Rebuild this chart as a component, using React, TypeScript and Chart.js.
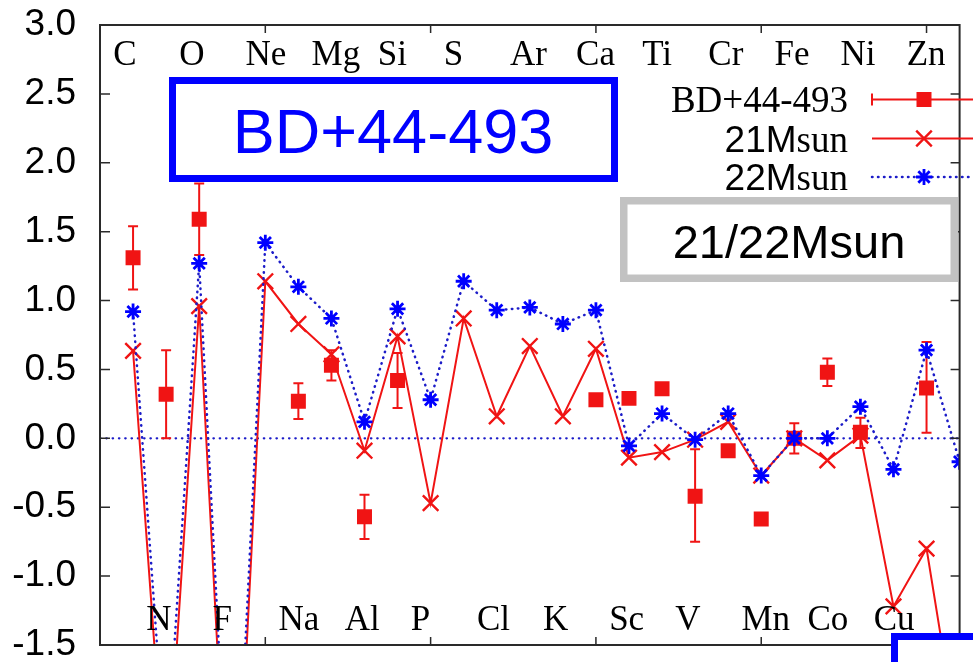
import React, { useEffect, useRef } from 'react';
import { Chart, registerables } from 'chart.js';

Chart.register(...registerables);

// ---------- data ----------
const atomicNumbers = [6, 7, 8, 9, 10, 11, 12, 13, 14, 15, 16, 17, 18, 19, 20, 21, 22, 23, 24, 25, 26, 27, 28, 29, 30, 31];
const elementSymbols = ['C', 'N', 'O', 'F', 'Ne', 'Na', 'Mg', 'Al', 'Si', 'P', 'S', 'Cl', 'Ar', 'K', 'Ca', 'Sc', 'Ti', 'V', 'Cr', 'Mn', 'Fe', 'Co', 'Ni', 'Cu', 'Zn', 'Ga'];
const labelledSymbols = ['C', 'N', 'O', 'F', 'Ne', 'Na', 'Mg', 'Al', 'Si', 'P', 'S', 'Cl', 'Ar', 'K', 'Ca', 'Sc', 'Ti', 'V', 'Cr', 'Mn', 'Fe', 'Co', 'Ni', 'Cu', 'Zn'];

// BD+44-493 observed [X/Fe] with error bar bounds
const obsValues = [1.31, 0.32, 1.59, null, null, 0.27, 0.53, -0.57, 0.42, null, null, null, null, null, 0.28, 0.29, 0.36, -0.42, -0.09, -0.585, 0.0, 0.48, 0.045, null, 0.365, null];
const obsErrLow = [1.08, 0.0, 1.33, null, null, 0.14, 0.42, -0.73, 0.22, null, null, null, null, null, 0.25, null, null, -0.75, null, null, -0.11, 0.38, -0.07, null, 0.04, null];
const obsErrHigh = [1.54, 0.64, 1.85, null, null, 0.4, 0.64, -0.41, 0.62, null, null, null, null, null, 0.31, null, null, -0.08, null, null, 0.11, 0.58, 0.15, null, 0.7, null];

// model yields
const model21Msun = [0.635, -2.68, 0.96, -3.55, 1.14, 0.83, 0.61, -0.09, 0.74, -0.47, 0.87, 0.16, 0.67, 0.16, 0.65, -0.14, -0.1, -0.01, 0.12, -0.27, 0.0, -0.16, 0.02, -1.22, -0.8, -2.28];
const model22Msun = [0.92, -2.42, 1.27, -3.4, 1.42, 1.1, 0.87, 0.12, 0.94, 0.28, 1.14, 0.93, 0.95, 0.83, 0.93, -0.055, 0.18, -0.01, 0.18, -0.27, 0.0, 0.0, 0.23, -0.225, 0.64, -0.17];

const xMin = 5;
const xMax = 31;
const xMajorTicks = [10, 15, 20, 25, 30];
const yMin = -1.5;
const yMax = 3.0;
const yStep = 0.5;

const legendLabels = ['BD+44-493', '21Msun', '22Msun'];
const titleText = 'BD+44-493';
const modelText = '21/22Msun';

// ---------- styles ----------
const RED = '#f01414';
const BLUE = '#0000ff';
const BLUE_LINE = '#1c1cc8';
const FRAME = '#2a2a2a';
const SERIF = '"Liberation Serif", "Times New Roman", serif';
const SANS = '"Liberation Sans", Arial, sans-serif';
const CROSS_R = 11;
const STAR_R = 8;

const obsPoints = atomicNumbers
  .map((z, i) => ({ x: z, y: obsValues[i] }))
  .filter((p) => p.y !== null);
const pts21 = atomicNumbers.map((z, i) => ({ x: z, y: model21Msun[i] }));
const pts22 = atomicNumbers.map((z, i) => ({ x: z, y: model22Msun[i] }));

function drawRectMarker(ctx: CanvasRenderingContext2D, x: number, y: number, s: number) {
  ctx.fillStyle = RED;
  ctx.fillRect(x - s / 2, y - s / 2, s, s);
}
function drawCrossRot(ctx: CanvasRenderingContext2D, x: number, y: number, r: number) {
  const d = r * Math.SQRT1_2;
  ctx.beginPath();
  ctx.moveTo(x - d, y - d);
  ctx.lineTo(x + d, y + d);
  ctx.moveTo(x - d, y + d);
  ctx.lineTo(x + d, y - d);
  ctx.stroke();
}
function drawStar(ctx: CanvasRenderingContext2D, x: number, y: number, r: number) {
  ctx.beginPath();
  for (let k = 0; k < 4; k++) {
    const a = (k * Math.PI) / 4;
    ctx.moveTo(x - Math.cos(a) * r, y - Math.sin(a) * r);
    ctx.lineTo(x + Math.cos(a) * r, y + Math.sin(a) * r);
  }
  ctx.stroke();
}

const decorPlugin = {
  id: 'decor',
  beforeDatasetsDraw(chart: any) {
    const { ctx, chartArea: a, scales } = chart;
    const xs = scales.x;
    const ys = scales.y;
    ctx.save();
    // zero line
    const y0 = ys.getPixelForValue(0);
    ctx.strokeStyle = BLUE_LINE;
    ctx.lineWidth = 2.2;
    ctx.lineCap = 'round';
    ctx.setLineDash([0.5, 5.8]);
    ctx.beginPath();
    ctx.moveTo(a.left, y0);
    ctx.lineTo(a.right, y0);
    ctx.stroke();
    ctx.setLineDash([]);
    ctx.lineCap = 'butt';
    // error bars
    ctx.strokeStyle = RED;
    ctx.lineWidth = 2;
    atomicNumbers.forEach((z, i) => {
      const lo = obsErrLow[i];
      const hi = obsErrHigh[i];
      if (lo === null || hi === null) return;
      const px = xs.getPixelForValue(z);
      const pl = ys.getPixelForValue(lo);
      const ph = ys.getPixelForValue(hi);
      ctx.beginPath();
      ctx.moveTo(px, pl);
      ctx.lineTo(px, ph);
      ctx.moveTo(px - 5, pl);
      ctx.lineTo(px + 5, pl);
      ctx.moveTo(px - 5, ph);
      ctx.lineTo(px + 5, ph);
      ctx.stroke();
    });
    ctx.restore();
  },
  afterDatasetsDraw(chart: any) {
    const { ctx, chartArea: a, scales } = chart;
    const xs = scales.x;
    const ys = scales.y;
    ctx.save();
    // frame
    ctx.strokeStyle = FRAME;
    ctx.lineWidth = 2;
    ctx.strokeRect(a.left, a.top, a.right - a.left, a.bottom - a.top);
    // y ticks (inward, both sides)
    ctx.lineWidth = 1.5;
    ys.ticks.forEach((t: any) => {
      if (t.value <= yMin || t.value >= yMax) return;
      const py = ys.getPixelForValue(t.value);
      ctx.beginPath();
      ctx.moveTo(a.left, py);
      ctx.lineTo(a.left + 10, py);
      ctx.moveTo(a.right, py);
      ctx.lineTo(a.right - 9, py);
      ctx.stroke();
    });
    // x ticks
    xMajorTicks.forEach((v) => {
      const px = xs.getPixelForValue(v);
      ctx.beginPath();
      ctx.moveTo(px, a.top);
      ctx.lineTo(px, a.top + 8);
      ctx.moveTo(px, a.bottom);
      ctx.lineTo(px, a.bottom - 8);
      ctx.stroke();
    });
    // element labels
    ctx.fillStyle = '#000';
    ctx.font = `35px ${SERIF}`;
    ctx.textAlign = 'left';
    ctx.textBaseline = 'alphabetic';
    labelledSymbols.forEach((sym) => {
      const z = atomicNumbers[elementSymbols.indexOf(sym)];
      const px = xs.getPixelForValue(z - 0.6);
      const py = z % 2 === 0 ? a.top + 40 : a.bottom - 15;
      ctx.fillText(sym, px, py);
    });

    // blue title box
    ctx.fillStyle = '#fff';
    ctx.fillRect(172.5, 80.5, 442, 98);
    ctx.strokeStyle = BLUE;
    ctx.lineWidth = 7;
    ctx.strokeRect(172.5, 80.5, 442, 98);
    ctx.fillStyle = BLUE;
    ctx.font = `63px ${SANS}`;
    ctx.textAlign = 'center';
    ctx.fillText(titleText, 393, 153);

    // grey model box
    ctx.fillStyle = '#fff';
    ctx.fillRect(623.75, 200.75, 330.5, 77.5);
    ctx.strokeStyle = '#c2c2c2';
    ctx.lineWidth = 7.5;
    ctx.strokeRect(623.75, 200.75, 330.5, 77.5);
    ctx.fillStyle = '#000';
    ctx.font = `47px ${SANS}`;
    ctx.fillText(modelText, 789, 258);

    // partial blue box bottom right
    ctx.fillStyle = '#fff';
    ctx.fillRect(894.5, 636.5, 200, 100);
    ctx.strokeStyle = BLUE;
    ctx.lineWidth = 7;
    ctx.strokeRect(894.5, 636.5, 200, 100);

    // legend
    const textRight = 848;
    const baselines = [112, 151.5, 190];
    const sampleY = [99.5, 138.5, 177];
    const sx0 = 872;
    const sx1 = chart.width;
    const mx = 924;
    ctx.textAlign = 'left';
    ctx.fillStyle = '#000';
    ctx.font = `37px ${SERIF}`;
    const w = ctx.measureText(legendLabels[0]).width;
    ctx.fillText(legendLabels[0], textRight - w, baselines[0]);
    [1, 2].forEach((k) => {
      const lab = legendLabels[k];
      const head = lab.slice(0, 3);
      const tail = lab.slice(3);
      ctx.font = `37px ${SERIF}`;
      const wt = ctx.measureText(tail).width;
      ctx.font = `37px ${SANS}`;
      const wh = ctx.measureText(head).width;
      ctx.fillText(head, textRight - wt - wh, baselines[k]);
      ctx.font = `37px ${SERIF}`;
      ctx.fillText(tail, textRight - wt, baselines[k]);
    });
    ctx.strokeStyle = RED;
    ctx.lineWidth = 2;
    ctx.beginPath();
    ctx.moveTo(sx0, sampleY[0]);
    ctx.lineTo(sx1, sampleY[0]);
    ctx.moveTo(sx0, sampleY[0] - 6);
    ctx.lineTo(sx0, sampleY[0] + 6);
    ctx.stroke();
    drawRectMarker(ctx, mx, sampleY[0], 15);
    ctx.beginPath();
    ctx.moveTo(sx0, sampleY[1]);
    ctx.lineTo(sx1, sampleY[1]);
    ctx.stroke();
    ctx.lineWidth = 2.4;
    drawCrossRot(ctx, mx, sampleY[1], CROSS_R);
    ctx.strokeStyle = BLUE_LINE;
    ctx.lineWidth = 2.5;
    ctx.lineCap = 'round';
    ctx.setLineDash([0.5, 5.5]);
    ctx.beginPath();
    ctx.moveTo(sx0, sampleY[2]);
    ctx.lineTo(sx1, sampleY[2]);
    ctx.stroke();
    ctx.setLineDash([]);
    ctx.lineCap = 'butt';
    ctx.strokeStyle = BLUE;
    ctx.lineWidth = 2.8;
    drawStar(ctx, mx, sampleY[2], STAR_R);
    ctx.restore();
  },
};

export default function App() {
  const ref = useRef<HTMLCanvasElement>(null);
  useEffect(() => {
    const canvas = ref.current;
    if (!canvas) return;
    const chart = new Chart(canvas, {
      type: 'line',
      data: {
        datasets: [
          {
            label: legendLabels[0],
            data: obsPoints as any,
            showLine: false,
            pointStyle: 'rect',
            pointRadius: 10.6,
            pointBackgroundColor: RED,
            pointBorderColor: RED,
            pointBorderWidth: 0,
            borderColor: RED,
            order: 3,
          },
          {
            label: legendLabels[1],
            data: pts21 as any,
            borderColor: RED,
            borderWidth: 2,
            pointStyle: 'crossRot',
            pointRadius: CROSS_R,
            pointBorderColor: RED,
            pointBackgroundColor: RED,
            pointBorderWidth: 2.4,
            tension: 0,
            fill: false,
            order: 2,
          },
          {
            label: legendLabels[2],
            data: pts22 as any,
            borderColor: BLUE_LINE,
            borderWidth: 2.5,
            borderDash: [0.5, 5.5],
            borderCapStyle: 'round',
            pointStyle: 'star',
            pointRadius: STAR_R,
            pointBorderColor: BLUE,
            pointBackgroundColor: BLUE,
            pointBorderWidth: 2.8,
            tension: 0,
            fill: false,
            order: 1,
          },
        ],
      },
      options: {
        animation: false,
        responsive: false,
        events: [],
        layout: { padding: { left: 0, right: 5, top: 25, bottom: 17 } },
        plugins: { legend: { display: false }, tooltip: { enabled: false } },
        scales: {
          x: { type: 'linear', min: xMin, max: xMax, display: false },
          y: {
            type: 'linear',
            min: yMin,
            max: yMax,
            afterFit: (s: any) => {
              s.width = 100;
              s.paddingTop = 0;
              s.paddingBottom = 0;
            },
            grid: { display: false, drawTicks: false },
            border: { display: false },
            ticks: {
              stepSize: yStep,
              padding: 24,
              color: '#000',
              font: { family: 'Liberation Sans', size: 37, lineHeight: 0.9 },
              callback: (v: any) => Number(v).toFixed(1),
            },
          },
        },
      },
      plugins: [decorPlugin],
    });
    return () => chart.destroy();
  }, []);
  return (
    <div style={{ position: 'absolute', left: 0, top: 0, width: 973, height: 662, background: '#fff' }}>
      <canvas ref={ref} width={973} height={662} style={{ display: 'block' }} />
    </div>
  );
}
